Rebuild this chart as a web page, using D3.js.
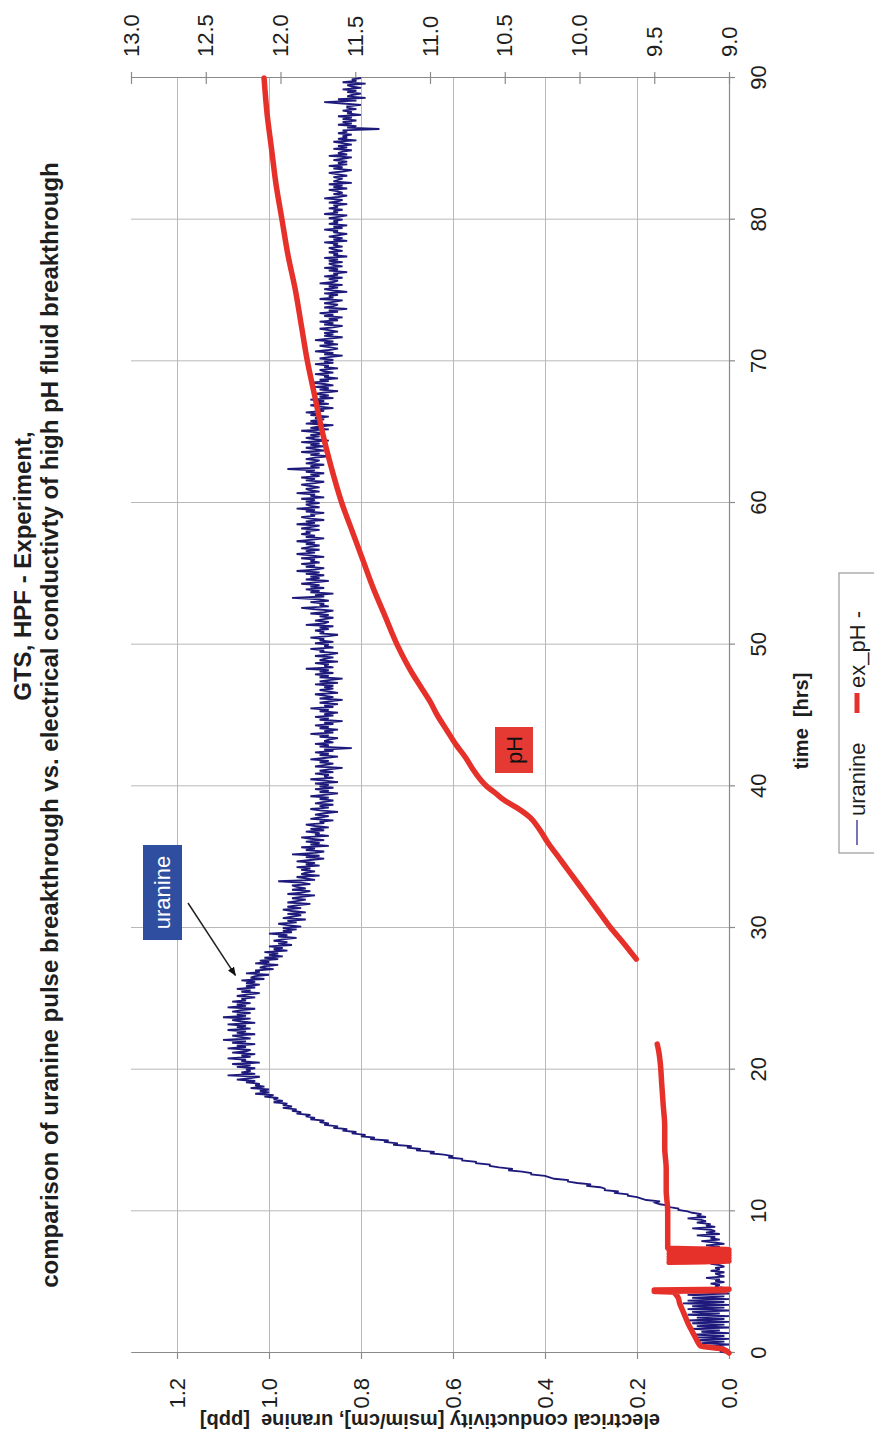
<!DOCTYPE html>
<html><head><meta charset="utf-8">
<script src="https://cdn.jsdelivr.net/npm/d3@7"></script>
<style>
html,body{margin:0;padding:0;background:#fff;}
svg{display:block;}
text{font-family:"Liberation Sans", Arial, Helvetica, sans-serif;}
</style></head><body>
<script>
// ---------------- data ----------------
const titleLines = ["GTS, HPF - Experiment,", "comparison of uranine pulse breakthrough vs. electrical conductivty of high pH fluid breakthrough"];
const xTitle = "time  [hrs]";
const yLeftTitle = "electrical conductivity [msim/cm], uranine  [ppb]";
const timeTicks = [0,10,20,30,40,50,60,70,80,90];
const leftTicks = [0.0,0.2,0.4,0.6,0.8,1.0,1.2];
const rightTicks = [9.0,9.5,10.0,10.5,11.0,11.5,12.0,12.5,13.0];
const seriesNames = ["uranine", "ex_pH -"];

// uranine, sampled every 0.1 h starting at t = 0 (one row = one hour)
const uranineStart = 0, uranineStep = 0.1;
const uranineValues = [
0.00,0.02,0.00,0.03,0.01,0.05,0.00,0.06,0.01,0.07,
0.00,0.07,0.01,0.08,0.00,0.06,0.02,0.08,0.00,0.07,
0.01,0.08,0.00,0.09,0.01,0.07,0.00,0.09,0.02,0.08,
0.00,0.09,0.01,0.08,0.00,0.10,0.01,0.09,0.00,0.08,
0.01,0.09,0.00,0.10,0.02,0.04,0.01,0.03,0.02,0.04,
0.01,0.03,0.02,0.05,0.01,0.02,0.03,0.01,0.04,0.02,
0.03,0.01,0.02,0.04,0.01,0.03,0.02,0.04,0.01,0.03,
0.02,0.01,0.03,0.02,0.04,0.02,0.05,0.01,0.03,0.06,
0.02,0.04,0.03,0.07,0.02,0.05,0.03,0.04,0.08,0.03,
0.05,0.04,0.07,0.05,0.06,0.09,0.05,0.07,0.06,0.08,
0.09,0.11,0.11,0.13,0.13,0.15,0.16,0.15,0.18,0.19,
0.20,0.22,0.22,0.25,0.24,0.27,0.27,0.28,0.31,0.30,
0.33,0.35,0.35,0.38,0.39,0.40,0.43,0.43,0.45,0.48,
0.47,0.50,0.52,0.52,0.55,0.55,0.58,0.58,0.61,0.60,
0.62,0.65,0.64,0.68,0.67,0.70,0.69,0.73,0.72,0.75,
0.74,0.78,0.77,0.80,0.79,0.82,0.81,0.84,0.83,0.86,
0.85,0.88,0.87,0.89,0.88,0.91,0.90,0.92,0.91,0.94,
0.93,0.95,0.94,0.97,0.95,0.97,0.96,0.99,0.97,0.99,
0.98,1.01,0.99,1.03,1.00,1.02,1.00,1.04,1.01,1.03,
1.02,1.05,1.03,1.07,1.04,1.02,1.09,1.03,1.06,1.04,
1.05,1.03,1.07,1.04,1.08,1.02,1.06,1.05,1.09,1.04,
1.06,1.03,1.08,1.05,1.04,1.09,1.05,1.07,1.03,1.08,
1.05,1.10,1.04,1.06,1.08,1.03,1.07,1.05,1.09,1.04,
1.07,1.05,1.09,1.03,1.06,1.08,1.04,1.10,1.05,1.07,
1.04,1.08,1.06,1.03,1.09,1.05,1.07,1.04,1.08,1.05,
1.06,1.03,1.07,1.05,1.02,1.06,1.04,1.07,1.03,1.05,
1.02,1.05,1.03,1.06,1.01,1.04,1.03,1.00,1.05,1.02,
1.03,0.99,1.02,1.01,0.98,1.03,1.00,1.02,0.98,1.01,
0.97,1.00,0.98,1.01,0.96,0.99,0.97,1.00,0.95,0.98,
0.96,0.99,0.97,0.94,0.98,0.96,1.00,0.95,0.97,0.94,
0.97,0.93,0.96,0.98,0.94,0.96,0.92,0.97,0.95,0.93,
0.96,0.92,0.95,0.97,0.93,0.96,0.94,0.91,0.96,0.94,
0.92,0.95,0.93,0.90,0.96,0.93,0.91,0.95,0.92,0.94,
0.95,0.91,0.93,0.98,0.90,0.92,0.94,0.89,0.93,0.92,
0.90,0.93,0.91,0.94,0.89,0.92,0.90,0.94,0.91,0.88,
0.92,0.89,0.95,0.90,0.88,0.92,0.90,0.93,0.87,0.91,
0.89,0.92,0.88,0.91,0.93,0.87,0.90,0.89,0.92,0.88,
0.91,0.87,0.90,0.92,0.88,0.89,0.86,0.91,0.89,0.87,
0.90,0.88,0.85,0.89,0.91,0.87,0.89,0.86,0.90,0.88,
0.86,0.89,0.87,0.91,0.88,0.85,0.89,0.87,0.90,0.86,
0.89,0.87,0.90,0.85,0.88,0.91,0.86,0.88,0.87,0.90,
0.86,0.89,0.87,0.84,0.90,0.88,0.86,0.89,0.87,0.91,
0.88,0.85,0.89,0.87,0.90,0.86,0.88,0.82,0.89,0.87,
0.90,0.86,0.88,0.87,0.85,0.89,0.87,0.91,0.86,0.88,
0.85,0.89,0.87,0.90,0.86,0.88,0.84,0.89,0.87,0.90,
0.86,0.88,0.85,0.89,0.87,0.91,0.86,0.88,0.85,0.89,
0.87,0.84,0.89,0.86,0.88,0.90,0.85,0.87,0.89,0.86,
0.88,0.86,0.90,0.85,0.89,0.87,0.84,0.89,0.87,0.90,
0.86,0.89,0.87,0.92,0.86,0.88,0.87,0.90,0.85,0.89,
0.88,0.86,0.90,0.87,0.85,0.89,0.88,0.91,0.86,0.88,
0.87,0.90,0.86,0.89,0.88,0.91,0.87,0.85,0.89,0.88,
0.90,0.87,0.89,0.86,0.92,0.88,0.87,0.90,0.88,0.86,
0.89,0.87,0.91,0.88,0.86,0.90,0.93,0.87,0.89,0.88,
0.91,0.87,0.89,0.95,0.88,0.90,0.86,0.91,0.89,0.92,
0.88,0.91,0.89,0.93,0.90,0.87,0.92,0.89,0.91,0.88,
0.92,0.89,0.94,0.90,0.88,0.92,0.90,0.93,0.89,0.91,
0.90,0.93,0.88,0.91,0.94,0.90,0.92,0.89,0.93,0.91,
0.89,0.92,0.90,0.94,0.91,0.88,0.92,0.90,0.93,0.91,
0.92,0.89,0.93,0.91,0.89,0.94,0.90,0.92,0.88,0.91,
0.93,0.90,0.91,0.88,0.92,0.90,0.94,0.89,0.91,0.92,
0.89,0.92,0.90,0.93,0.88,0.91,0.90,0.94,0.89,0.91,
0.92,0.89,0.91,0.93,0.90,0.88,0.92,0.90,0.93,0.89,
0.91,0.88,0.92,0.90,0.96,0.89,0.91,0.88,0.92,0.90,
0.89,0.92,0.90,0.87,0.91,0.89,0.93,0.88,0.90,0.92,
0.88,0.91,0.89,0.93,0.87,0.90,0.92,0.89,0.91,0.88,
0.90,0.93,0.87,0.91,0.89,0.86,0.92,0.89,0.91,0.88,
0.90,0.87,0.91,0.89,0.92,0.88,0.90,0.86,0.89,0.91,
0.87,0.90,0.88,0.91,0.86,0.89,0.87,0.90,0.88,0.85,
0.89,0.87,0.90,0.86,0.88,0.91,0.87,0.89,0.85,0.88,
0.87,0.90,0.86,0.88,0.89,0.85,0.88,0.87,0.90,0.86,
0.88,0.86,0.89,0.87,0.84,0.88,0.86,0.90,0.87,0.85,
0.87,0.89,0.85,0.88,0.86,0.90,0.87,0.84,0.88,0.86,
0.88,0.85,0.87,0.89,0.86,0.84,0.88,0.86,0.89,0.85,
0.87,0.84,0.88,0.86,0.89,0.85,0.87,0.83,0.88,0.86,
0.85,0.88,0.86,0.84,0.89,0.86,0.87,0.85,0.88,0.83,
0.86,0.88,0.85,0.87,0.84,0.89,0.86,0.85,0.87,0.84,
0.88,0.85,0.86,0.83,0.87,0.85,0.88,0.84,0.86,0.87,
0.84,0.87,0.85,0.88,0.83,0.86,0.85,0.87,0.84,0.86,
0.87,0.84,0.86,0.85,0.88,0.83,0.86,0.84,0.87,0.85,
0.83,0.86,0.85,0.88,0.84,0.86,0.83,0.87,0.85,0.86,
0.84,0.87,0.85,0.83,0.88,0.85,0.86,0.84,0.87,0.85,
0.86,0.83,0.87,0.85,0.84,0.88,0.85,0.83,0.86,0.84,
0.85,0.87,0.83,0.86,0.84,0.87,0.82,0.86,0.85,0.84,
0.86,0.83,0.85,0.87,0.84,0.82,0.86,0.84,0.87,0.83,
0.85,0.83,0.86,0.84,0.82,0.87,0.83,0.85,0.84,0.82,
0.86,0.83,0.85,0.82,0.84,0.86,0.81,0.85,0.83,0.84,
0.82,0.85,0.83,0.84,0.76,0.83,0.81,0.85,0.82,0.84,
0.81,0.84,0.82,0.85,0.80,0.83,0.82,0.84,0.81,0.83,
0.83,0.80,0.84,0.88,0.81,0.85,0.79,0.83,0.82,0.80,
0.83,0.81,0.84,0.80,0.82,0.83,0.79,0.84,0.81,0.82,
0.80
];

// pH (right axis): [time h, pH]; null = no data
const phData = [
[0.0,9.00],[0.3,9.05],[0.5,9.19],[0.8,9.21],[1.2,9.23],[1.6,9.25],[2.0,9.27],[2.5,9.29],[3.0,9.31],[3.5,9.33],[3.9,9.34],[4.2,9.36],[4.3,9.37],[4.35,9.50],[4.4,9.02],[4.45,9.50],[4.5,9.00],
[5.5,null],
[6.4,9.40],[6.5,9.00],[6.6,9.40],[6.7,9.00],[6.8,9.40],[6.9,9.00],[7.0,9.40],[7.1,9.00],[7.2,9.40],[7.3,9.00],[7.4,9.41],[7.6,9.41],[8.5,9.41],[10.0,9.41],[11.5,9.42],[13.0,9.42],[14.5,9.43],[16.0,9.43],[17.5,9.44],[19.0,9.45],[20.5,9.46],[21.3,9.47],[21.8,9.48],
[25.0,null],
[27.8,9.62],[29.0,9.71],[30.0,9.79],[31.0,9.86],[32.0,9.93],[33.0,10.00],[34.0,10.07],[35.0,10.14],[36.0,10.21],[37.0,10.27],[37.8,10.33],[38.5,10.42],[39.0,10.50],[39.5,10.56],[40.0,10.62],[41.0,10.70],[42.0,10.76],[43.0,10.83],[44.0,10.89],[45.0,10.95],[46.0,11.00],[47.0,11.06],[48.0,11.12],[50.0,11.22],[52.0,11.30],[54.0,11.38],[56.0,11.45],[58.0,11.52],[60.0,11.59],[62.5,11.66],[65.0,11.72],[67.5,11.77],[70.0,11.82],[72.5,11.86],[75.0,11.90],[77.5,11.95],[80.0,11.99],[82.5,12.03],[85.0,12.06],[87.5,12.09],[90.0,12.11]
];

// annotations
const annUranine = {text:"uranine", t:26.8, v:1.06};
const annPH = {text:"pH"};

// ---------------- drawing ----------------
const PW = 1441, PH = 874; // unrotated frame
const svg = d3.select('body').append('svg').attr('width',874).attr('height',1441);
const g = svg.append('g').attr('transform',`translate(0,${PW}) rotate(-90)`);
g.append('rect').attr('x',0).attr('y',0).attr('width',PW).attr('height',PH).attr('fill','#fff');

const X0=88, X1=1363, YT=131, YB=729;
const x = d3.scaleLinear().domain([0,90]).range([X0,X1]);
const yL = d3.scaleLinear().domain([0,1.3]).range([YB,YT]);
const yR = d3.scaleLinear().domain([9,13]).range([YB,YT]);

const gridCol = '#b8b8b8', axisCol = '#8a8a8a', txtCol = '#1e1e1e';

// grid
g.append('g').attr('transform',`translate(0,${YB})`)
 .call(d3.axisBottom(x).tickValues(timeTicks).tickSize(-(YB-YT)).tickFormat(''))
 .call(s=>{s.select('.domain').remove(); s.selectAll('line').attr('stroke',gridCol);});
g.append('g').attr('transform',`translate(${X0},0)`)
 .call(d3.axisLeft(yL).tickValues(leftTicks).tickSize(-(X1-X0)).tickFormat(''))
 .call(s=>{s.select('.domain').remove(); s.selectAll('line').attr('stroke',gridCol);});

// axes
const fs = 22;
const ax = g.append('g').attr('transform',`translate(0,${YB})`)
 .call(d3.axisBottom(x).tickValues(timeTicks).tickSize(6).tickSizeOuter(0).tickPadding(15).tickFormat(d3.format('d')));
const ay = g.append('g').attr('transform',`translate(${X0},0)`)
 .call(d3.axisLeft(yL).tickValues(leftTicks).tickSize(6).tickSizeOuter(0).tickPadding(19).tickFormat(d3.format('.1f')));
const ar = g.append('g').attr('transform',`translate(${X1},0)`)
 .call(d3.axisRight(yR).tickValues(rightTicks).tickSize(6).tickSizeOuter(0).tickPadding(15).tickFormat(d3.format('.1f')));
ar.selectAll('.tick line').attr('x1',-6);
[ax,ay,ar].forEach(a=>{
  a.select('.domain').attr('stroke',axisCol).attr('stroke-width',1.2);
  a.selectAll('.tick line').attr('stroke',axisCol).attr('stroke-width',1.2);
  a.selectAll('text').attr('font-size',fs).attr('fill',txtCol).style('font-family','"Liberation Sans", Arial, sans-serif');
});

// series
const uranine = uranineValues.map((v,i)=>[uranineStart + i*uranineStep, v]);
const lineU = d3.line().x(d=>x(d[0])).y(d=>yL(d[1]));
const lineP = d3.line().defined(d=>d[1]!=null).curve(d3.curveMonotoneX).x(d=>x(d[0])).y(d=>yR(d[1]));
g.append('path').datum(uranine).attr('d',lineU).attr('fill','none')
 .attr('stroke','#1e1a7c').attr('stroke-width',1.8).attr('stroke-linejoin','miter');
g.append('path').datum(phData).attr('d',lineP).attr('fill','none')
 .attr('stroke','#e6302a').attr('stroke-width',5.5).attr('stroke-linejoin','round').attr('stroke-linecap','round');

// titles
g.append('text').attr('x',875).attr('y',31).attr('text-anchor','middle')
 .attr('font-size',24).attr('font-weight','bold').attr('fill',txtCol).text(titleLines[0]);
g.append('text').attr('x',716).attr('y',58).attr('text-anchor','middle')
 .attr('font-size',24).attr('font-weight','bold').attr('fill',txtCol).text(titleLines[1]);
g.append('text').attr('x',720).attr('y',808).attr('text-anchor','middle')
 .attr('font-size',20).attr('font-weight','bold').attr('fill',txtCol).style('white-space','pre').text(xTitle);
g.append('text').attr('transform',`translate(27,${(YT+YB)/2}) rotate(-90)`).attr('text-anchor','middle')
 .attr('font-size',20).attr('font-weight','bold').attr('fill',txtCol).style('white-space','pre').text(yLeftTitle);

// annotation: uranine box + arrow
const defs = svg.append('defs');
defs.append('marker').attr('id','ah').attr('viewBox','0 0 10 10').attr('refX',9).attr('refY',5)
 .attr('markerWidth',9).attr('markerHeight',9).attr('orient','auto-start-reverse').attr('markerUnits','userSpaceOnUse')
 .append('path').attr('d','M0,1 L10,5 L0,9 Z').attr('fill','#111');
g.append('rect').attr('x',501).attr('y',143).attr('width',95).attr('height',39).attr('fill','#2f4ea0');
g.append('text').attr('x',548.5).attr('y',170).attr('text-anchor','middle').attr('font-size',22).attr('fill','#fff').text(annUranine.text);
g.append('line').attr('x1',538).attr('y1',188).attr('x2',x(annUranine.t)-2).attr('y2',yL(annUranine.v)-6)
 .attr('stroke','#222').attr('stroke-width',1.5).attr('marker-end','url(#ah)');

// annotation: pH box
g.append('rect').attr('x',668).attr('y',495).attr('width',46).attr('height',38).attr('fill','#e53a33');
g.append('text').attr('x',691).attr('y',522).attr('text-anchor','middle').attr('font-size',22).attr('fill','#111').text(annPH.text);

// legend
const lg = g.append('g');
lg.append('rect').attr('x',588).attr('y',839).attr('width',280).attr('height',50).attr('fill','#fff').attr('stroke','#9a9a9a').attr('stroke-width',1.2);
lg.append('line').attr('x1',596).attr('x2',621).attr('y1',857).attr('y2',857).attr('stroke','#4a46a0').attr('stroke-width',1.5);
lg.append('text').attr('x',625).attr('y',865).attr('font-size',22).attr('fill',txtCol).text(seriesNames[0]);
lg.append('line').attr('x1',728).attr('x2',748).attr('y1',857).attr('y2',857).attr('stroke','#e6302a').attr('stroke-width',5);
lg.append('text').attr('x',753).attr('y',865).attr('font-size',22).attr('fill',txtCol).text(seriesNames[1]);
</script>
</body></html>
